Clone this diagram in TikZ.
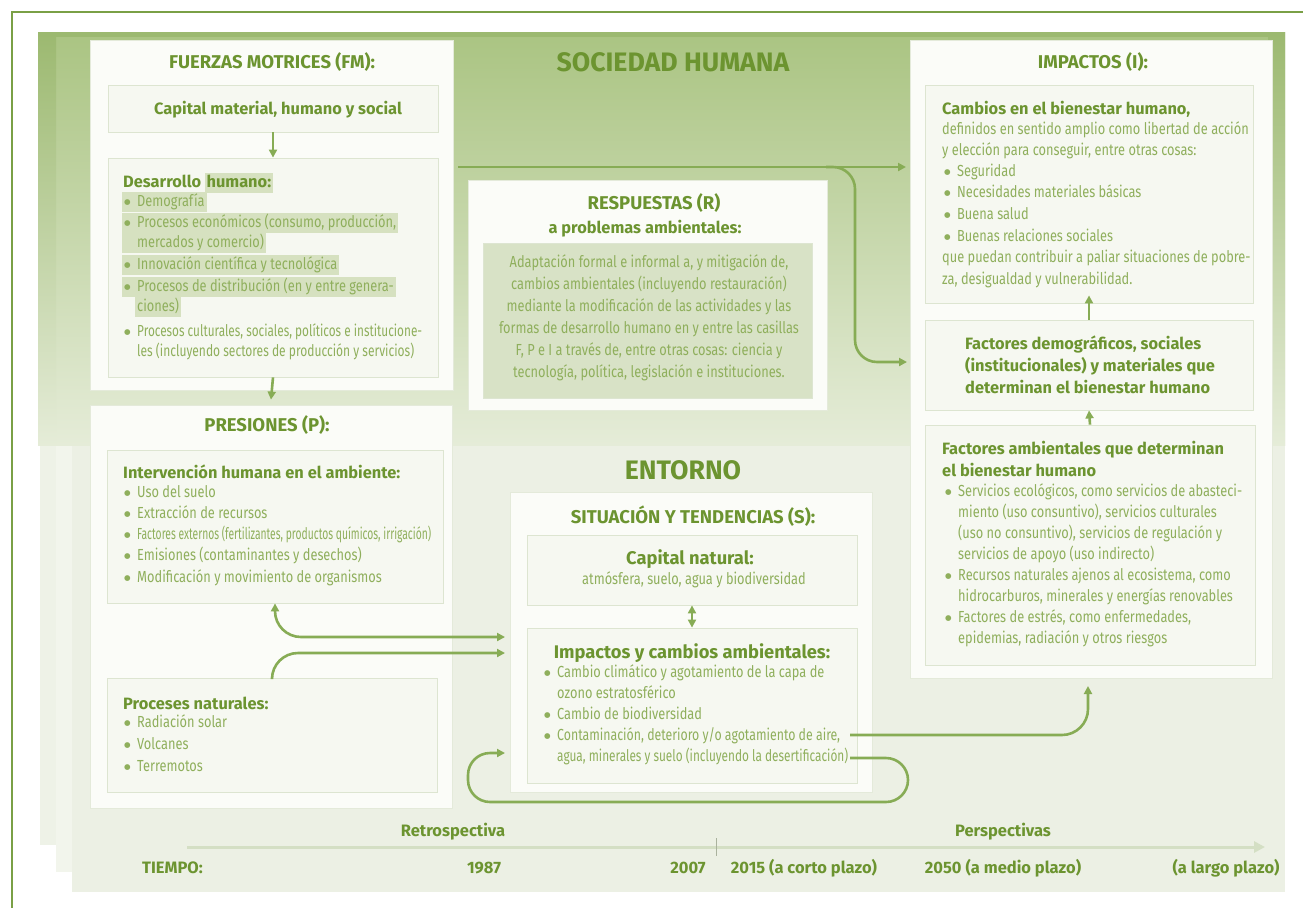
\documentclass[tikz,border=0pt]{standalone}
\usepackage{fontspec}
\usepackage{graphicx}
\setmainfont{Fira Sans}
\newfontfamily\cfam{Fira Sans}[FakeStretch=0.8]
\newfontfamily\wfam{Fira Sans}
\newfontfamily\symfam{DejaVu Sans}
\usetikzlibrary{arrows.meta,fit}
\definecolor{hd}{RGB}{108,148,48}
\definecolor{bt}{RGB}{143,175,92}
\definecolor{ar}{RGB}{135,172,85}
\definecolor{fr}{RGB}{122,160,70}
\definecolor{bgTop}{RGB}{170,196,130}
\definecolor{bgMidd}{RGB}{196,213,165}
\definecolor{bgBot}{RGB}{229,236,216}
\definecolor{strip}{RGB}{156,185,112}
\definecolor{pA}{RGB}{238,242,231}
\definecolor{pB}{RGB}{242,245,236}
\definecolor{pC}{RGB}{236,240,228}
\definecolor{wb}{RGB}{251,252,248}
\definecolor{wbl}{RGB}{228,234,218}
\definecolor{ib}{RGB}{246,248,241}
\definecolor{ibl}{RGB}{221,229,209}
\definecolor{hlc}{RGB}{214,225,192}
\definecolor{rin}{RGB}{216,226,198}
\definecolor{tlc}{RGB}{212,223,196}
\newcommand{\fBody}{\cfam\fontsize{16}{20}\selectfont}
\newcommand{\fSub}{\wfam\bfseries\fontsize{16.4}{22}\selectfont}
\newcommand{\fWide}{\wfam\bfseries\fontsize{18.3}{22}\selectfont}
\newcommand{\fTit}{\wfam\bfseries\fontsize{18.5}{22}\selectfont}
\newcommand{\fBig}{\wfam\bfseries\fontsize{26.7}{30}\selectfont}
\newcommand{\fTime}{\wfam\bfseries\fontsize{16.5}{20}\selectfont}
\newcommand{\bul}{\makebox[13pt][l]{\raisebox{1.2pt}{\symfam\fontsize{7.5}{8}\selectfont ●}}}
\newcommand{\fitto}[2]{\resizebox{#1}{\height}{#2}}
\begin{document}
\begin{tikzpicture}[x=1pt,y=-1pt,
  wbox/.style={draw=wbl, line width=0.8pt, fill=wb, inner sep=0pt},
  ibox/.style={draw=ibl, line width=0.8pt, fill=ib, inner sep=0pt},
  tx/.style={font=\fBody, text=bt, inner sep=0pt, anchor=base west},
  hx/.style={font=\fSub, text=hd, inner sep=0pt, anchor=base west},
  hc/.style={font=\fSub, text=hd, inner sep=0pt, anchor=base},
  hw/.style={font=\fWide, text=hd, inner sep=0pt, anchor=base},
  tt/.style={font=\fTit, text=hd, inner sep=0pt, anchor=base},
  big/.style={font=\fBig, text=hd, inner sep=0pt, anchor=base},
  tm/.style={font=\fTime, text=hd, inner sep=0pt, anchor=base},
  hlite/.style={fill=hlc, inner xsep=2pt, inner ysep=0pt, text height=14pt, text depth=6pt},
  arr/.style={draw=ar, line width=2.6pt, -{Triangle[length=8pt,width=8pt]}},
  arrb/.style={draw=ar, line width=2.6pt, {Triangle[length=8pt,width=8pt]}-{Triangle[length=8pt,width=8pt]}},
  tla/.style={draw=tlc, line width=3pt, -{Triangle[length=11pt,width=11pt]}}]
\useasboundingbox (0,0) rectangle (1303,908);
\fill[white] (0,0) rectangle (1303,908);
% outer frame
\draw[fr, line width=2pt] (1303,12) -- (12,12) -- (12,908);
% stacked background panels
\fill[pA] (40,380) rectangle (1285,845);
\fill[pB] (56,400) rectangle (1285,872);
\fill[pC] (72,430) rectangle (1285,892);
\shade[top color=bgTop, middle color=bgMidd, bottom color=bgBot] (38,32) rectangle (1285,445);
\shade[top color=strip, bottom color=bgBot] (38,32) rectangle (56,445);
\shade[top color=strip, bottom color=bgBot] (1268,32) rectangle (1285,445);
\fill[strip] (38,32) rectangle (1285,37);
\fill[pC] (72,812) rectangle (1285,892);
% big titles
\node[big] (soc) at (673,71) {SOCIEDAD HUMANA};
\node[big] (ent) at (683,479) {ENTORNO};
% white boxes
\node[wbox, fit={(90,40) (453,390)}] (fm) {};
\node[wbox, fit={(90,405) (452,808)}] (pres) {};
\node[wbox, fit={(468,180) (827,410)}] (resp) {};
\node[wbox, fit={(910,40) (1272,678)}] (imp) {};
\node[wbox, fit={(510,492) (872,792)}] (sit) {};
% inner boxes
\node[ibox, fit={(108,85) (438,132)}] (cap) {};
\node[ibox, fit={(108,158) (438,377)}] (des) {};
\node[ibox, fit={(107,450) (443,603)}] (intv) {};
\node[ibox, fit={(107,678) (437,792)}] (natp) {};
\node[draw=ibl, line width=0.8pt, fill=rin, inner sep=0pt, fit={(483,243) (812,398)}] (respin) {};
\node[ibox, fit={(925,85) (1253,303)}] (camb) {};
\node[ibox, fit={(925,320) (1253,410)}] (fdem) {};
\node[ibox, fit={(925,425) (1255,665)}] (famb) {};
\node[ibox, fit={(527,535) (857,605)}] (capn) {};
\node[ibox, fit={(527,628) (857,783)}] (impc) {};
% FUERZAS MOTRICES
\node[tt] (fmt) at (272,68) {FUERZAS MOTRICES (FM):};
\node[hc] (capt) at (278,114) {Capital material, humano y social};
\node[hx] (dh1) at (123,187) {Desarrollo};
\node[hx, hlite, anchor=base west] (dh2) at ([xshift=3pt]dh1.base east) {humano:};
\node[tx,hlite] (d1) at (122,206) {\bul Demografía};
\node[tx,hlite] (d2) at (122,227) {\bul Procesos económicos (consumo, producción,};
\node[tx,hlite] (d3) at (122,247) {\hspace*{13pt}mercados y comercio)};
\node[tx,hlite] (d4) at (122,269) {\bul Innovación científica y tecnológica};
\node[tx,hlite] (d5) at (122,291) {\bul Procesos de distribución (en y entre genera-};
\node[tx,hlite] (d6) at (135,311) {ciones)};
\node[tx] (d7) at (124,336) {\bul \fitto{285pt}{Procesos culturales, sociales, políticos e institucione-}};
\node[tx] (d8) at (137,356) {\fitto{277pt}{les (incluyendo sectores de producción y servicios)}};
% PRESIONES
\node[tt] (pt) at (267,431) {PRESIONES (P):};
\node[hx] (ih) at (123,478) {Intervención humana en el ambiente:};
\node[tx] (i1) at (124,497) {\bul Uso del suelo};
\node[tx] (i2) at (124,518) {\bul Extracción de recursos};
\node[tx] (i3) at (124,539) {\bul \fitto{294pt}{Factores externos (fertilizantes, productos químicos, irrigación)}};
\node[tx] (i4) at (124,560) {\bul Emisiones (contaminantes y desechos)};
\node[tx] (i5) at (124,582) {\bul Modificación y movimiento de organismos};
\node[hx] (nh) at (123,709) {Proceses naturales:};
\node[tx] (n1) at (124,727) {\bul Radiación solar};
\node[tx] (n2) at (124,749) {\bul Volcanes};
\node[tx] (n3) at (124,771) {\bul Terremotos};
% RESPUESTAS
\node[tt] (rt1) at (654,209) {RESPUESTAS (R)};
\node[hc] (rt2) at (645,233) {a problemas ambientales:};
\node[tx, anchor=base] (r1) at (649,267) {Adaptación formal e informal a, y mitigación de,};
\node[tx, anchor=base] (r2) at (649,289) {cambios ambientales (incluyendo restauración)};
\node[tx, anchor=base] (r3) at (649,311) {mediante la modificación de las actividades y las};
\node[tx, anchor=base] (r4) at (649,333) {formas de desarrollo humano en y entre las casillas};
\node[tx, anchor=base] (r5) at (649,355) {F, P e I a través de, entre otras cosas: ciencia y};
\node[tx, anchor=base] (r6) at (649,377) {tecnología, política, legislación e instituciones.};
% IMPACTOS
\node[tt] (it) at (1093,68) {IMPACTOS (I):};
\node[hx] (ch) at (942,114) {Cambios en el bienestar humano,};
\node[tx] (c1) at (942,134) {definidos en sentido amplio como libertad de acción};
\node[tx] (c2) at (942,155) {y elección para conseguir, entre otras cosas:};
\node[tx] (c3) at (944,176) {\bul Seguridad};
\node[tx] (c4) at (944,197) {\bul Necesidades materiales básicas};
\node[tx] (c5) at (944,219) {\bul Buena salud};
\node[tx] (c6) at (944,241) {\bul Buenas relaciones sociales};
\node[tx] (c7) at (942,262) {que puedan contribuir a paliar situaciones de pobre-};
\node[tx] (c8) at (942,284) {za, desigualdad y vulnerabilidad.};
\node[hx] (fd1) at (965,349) {Factores demográficos, sociales};
\node[hx] (fd2) at (965,371) {(institucionales) y materiales que};
\node[hx] (fd3) at (965,393) {determinan el bienestar humano};
\node[hx] (fa1) at (942,454) {Factores ambientales que determinan};
\node[hx] (fa2) at (942,476) {el bienestar humano};
\node[tx] (a1) at (945,496) {\bul Servicios ecológicos, como servicios de abasteci-};
\node[tx] (a2) at (958,517) {miento (uso consuntivo), servicios culturales};
\node[tx] (a3) at (958,538) {(uso no consuntivo), servicios de regulación y};
\node[tx] (a4) at (958,559) {servicios de apoyo (uso indirecto)};
\node[tx] (a5) at (945,580) {\bul Recursos naturales ajenos al ecosistema, como};
\node[tx] (a6) at (958,601) {hidrocarburos, minerales y energías renovables};
\node[tx] (a7) at (945,622) {\bul Factores de estrés, como enfermedades,};
\node[tx] (a8) at (958,643) {epidemias, radiación y otros riesgos};
% SITUACION
\node[tt] (st) at (693,523) {SITUACIÓN Y TENDENCIAS (S):};
\node[hw] (cn1) at (690,564) {Capital natural:};
\node[tx, anchor=base] (cn2) at (694,584) {atmósfera, suelo, agua y biodiversidad};
\node[hw] (ic) at (692,658) {Impactos y cambios ambientales:};
\node[tx] (m1) at (544,677) {\bul Cambio climático y agotamiento de la capa de};
\node[tx] (m2) at (557,698) {ozono estratosférico};
\node[tx] (m3) at (544,719) {\bul Cambio de biodiversidad};
\node[tx] (m4) at (544,740) {\bul \fitto{283pt}{Contaminación, deterioro y/o agotamiento de aire,}};
\node[tx] (m5) at (557,761) {\fitto{291pt}{agua, minerales y suelo (incluyendo la desertificación)}};
% connector coordinates
\coordinate (s1) at (505,637);
\coordinate (s2) at (505,653);
\coordinate (lp0) at (850,758);
\coordinate (s3) at (505,753);
\coordinate (u0) at (850,735);
\coordinate (u1) at (1088,686);
\coordinate (h0) at (458,167);
\coordinate (h1) at (906,167);
\coordinate (h2) at (826,167);
\coordinate (h3) at (907,362);
% connectors
\draw[arr] (cap.south) -- (des.north);
\draw[arr] (des.south) -- ([yshift=5pt]pres.north);
\draw[arrb, rounded corners=26pt] (intv.south) |- (s1);
\draw[arr, rounded corners=26pt] (natp.north) |- (s2);
\draw[arr, rounded corners=22pt] (lp0) -- (908,758) -- (908,802) -- (468,802) -- (468,753) -- (s3);
\draw[arr, rounded corners=26pt] (u0) -| (u1);
\draw[arr] (h0) -- (h1);
\draw[arr, rounded corners=22pt] (h2) -- (855,167) -- (855,362) -- (h3);
\draw[arr] (fdem.north) -- ([yshift=8pt]camb.south);
\draw[arr] (famb.north) -- (fdem.south);
\draw[arrb] (capn.south) -- (impc.north);
% time band
\coordinate (tl0) at (187,847);
\coordinate (tl1) at (1265,847);
\coordinate (tk0) at (716,838);
\coordinate (tk1) at (716,856);
\draw[tla] (tl0) -- (tl1);
\draw[draw=tlc!80!black, line width=1pt] (tk0) -- (tk1);
\node[tm] (retro) at (453,836) {Retrospectiva};
\node[tm] (persp) at (1003,836) {Perspectivas};
\node[tm, anchor=base west] (tiempo) at (142,873) {TIEMPO:};
\node[tm] (y1987) at (484,873) {1987};
\node[tm] (y2007) at (688,873) {2007};
\node[tm] (y2015) at (804,873) {2015 (a corto plazo)};
\node[tm] (y2050) at (1003,873) {2050 (a medio plazo)};
\node[tm] (ylong) at (1226,873) {(a largo plazo)};
\end{tikzpicture}
\end{document}
